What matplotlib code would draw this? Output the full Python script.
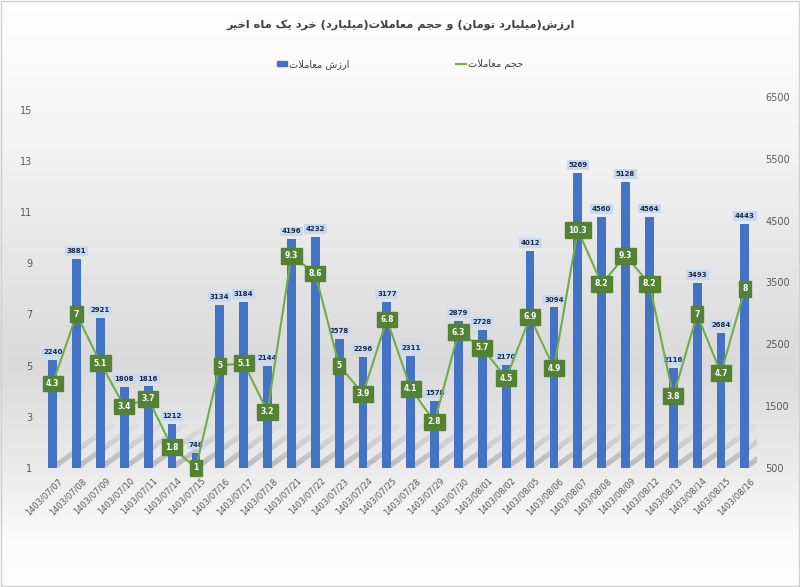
import matplotlib
matplotlib.use("Agg")
import matplotlib.pyplot as plt
import matplotlib.transforms as mtransforms
import numpy as np
from matplotlib.patches import Patch, Polygon
from matplotlib.lines import Line2D
from matplotlib.colors import LinearSegmentedColormap

dates = ['1403/07/07', '1403/07/08', '1403/07/09', '1403/07/10', '1403/07/11',
         '1403/07/14', '1403/07/15', '1403/07/16', '1403/07/17', '1403/07/18',
         '1403/07/21', '1403/07/22', '1403/07/23', '1403/07/24', '1403/07/25',
         '1403/07/28', '1403/07/29', '1403/07/30', '1403/08/01', '1403/08/02',
         '1403/08/05', '1403/08/06', '1403/08/07', '1403/08/08', '1403/08/09',
         '1403/08/12', '1403/08/13', '1403/08/14', '1403/08/15', '1403/08/16']
value = [2240, 3881, 2921, 1808, 1816, 1212, 748, 3134, 3184, 2144,
         4196, 4232, 2578, 2296, 3177, 2311, 1578, 2879, 2728, 2170,
         4012, 3094, 5269, 4560, 5128, 4564, 2116, 3493, 2684, 4443]
volume = [4.3, 7, 5.1, 3.4, 3.7, 1.8, 1, 5, 5.1, 3.2,
          9.3, 8.6, 5, 3.9, 6.8, 4.1, 2.8, 6.3, 5.7, 4.5,
          6.9, 4.9, 10.3, 8.2, 9.3, 8.2, 3.8, 7, 4.7, 8]

title = 'ارزش(میلیارد تومان) و حجم معاملات(میلیارد) خرد یک ماه اخیر'
value_label = 'ارزش معاملات'
volume_label = 'حجم معاملات'

# matplotlib has no arabic shaping, so pick presentation forms by hand
# (isolated, final, initial, medial)
FORMS = {
    'ا': ('\uFE8D', '\uFE8E', None, None),
    'ب': ('\uFE8F', '\uFE90', '\uFE91', '\uFE92'),
    'ت': ('\uFE95', '\uFE96', '\uFE97', '\uFE98'),
    'ج': ('\uFE9D', '\uFE9E', '\uFE9F', '\uFEA0'),
    'ح': ('\uFEA1', '\uFEA2', '\uFEA3', '\uFEA4'),
    'خ': ('\uFEA5', '\uFEA6', '\uFEA7', '\uFEA8'),
    'د': ('\uFEA9', '\uFEAA', None, None),
    'ر': ('\uFEAD', '\uFEAE', None, None),
    'ز': ('\uFEAF', '\uFEB0', None, None),
    'س': ('\uFEB1', '\uFEB2', '\uFEB3', '\uFEB4'),
    'ش': ('\uFEB5', '\uFEB6', '\uFEB7', '\uFEB8'),
    'ع': ('\uFEC9', '\uFECA', '\uFECB', '\uFECC'),
    'ل': ('\uFEDD', '\uFEDE', '\uFEDF', '\uFEE0'),
    'م': ('\uFEE1', '\uFEE2', '\uFEE3', '\uFEE4'),
    'ن': ('\uFEE5', '\uFEE6', '\uFEE7', '\uFEE8'),
    'ه': ('\uFEE9', '\uFEEA', '\uFEEB', '\uFEEC'),
    'و': ('\uFEED', '\uFEEE', None, None),
    'ک': ('\uFB8E', '\uFB8F', '\uFB90', '\uFB91'),
    'ی': ('\uFBFC', '\uFBFD', '\uFBFE', '\uFBFF'),
}
LAM_ALEF = ('\uFEFB', '\uFEFC')


def dual(c):
    return c in FORMS and FORMS[c][2] is not None


def rtl(text):
    out = []
    i = 0
    while i < len(text):
        c = text[i]
        prev = text[i - 1] if i > 0 else ''
        joins_prev = c in FORMS and dual(prev)
        if c == 'ل' and i + 1 < len(text) and text[i + 1] == 'ا':
            out.append(LAM_ALEF[1] if joins_prev else LAM_ALEF[0])
            i += 2
            continue
        if c in FORMS:
            nxt = text[i + 1] if i + 1 < len(text) else ''
            joins_next = dual(c) and nxt in FORMS
            iso, fin, ini, med = FORMS[c]
            if joins_prev and joins_next:
                out.append(med)
            elif joins_prev:
                out.append(fin)
            elif joins_next:
                out.append(ini)
            else:
                out.append(iso)
        else:
            out.append({'(': ')', ')': '('}.get(c, c))
        i += 1
    return ''.join(out[::-1])


plt.rcParams['font.family'] = ['DejaVu Sans']

fig = plt.figure(figsize=(8, 5.87), dpi=100)

# soft vertical gradient behind everything
bg = fig.add_axes([0, 0, 1, 1], zorder=-10)
grad = LinearSegmentedColormap.from_list('bg', [
    (0.0, '#ffffff'), (0.25, '#f3f3f3'), (0.62, '#dadada'),
    (0.8, '#ebebeb'), (0.92, '#fbfbfb'), (1.0, '#ffffff')])
bg.imshow(np.linspace(0, 1, 256).reshape(-1, 1), aspect='auto', cmap=grad,
          extent=[0, 1, 1, 0])
bg.set_xlim(0, 1)
bg.set_ylim(1, 0)
bg.axis('off')
bg.add_patch(plt.Rectangle((0.001, 0.001), 0.998, 0.997, fill=False,
                           edgecolor='#d0d0d0', lw=1))

ax = fig.add_axes([0.051, 0.203, 0.895, 0.632])
ax.patch.set_visible(False)
x = np.arange(len(dates))
w = 0.37

ax.set_ylim(500, 6500)
ax.set_xlim(-0.5, len(dates) - 0.5)

# faded diagonal shadows at the foot of each bar
for xi in x:
    for k in range(1, 7):
        ln = k / 6
        ax.add_patch(Polygon([(xi - w / 2, 500), (xi + w / 2, 500),
                              (xi + w / 2 + 2.5 * ln, 500 + 700 * ln),
                              (xi - w / 2 + 2.5 * ln, 500 + 700 * ln)],
                             closed=True, fc='#606060', ec='none',
                             alpha=0.06, zorder=1))

bars = ax.bar(x, value, width=w, bottom=0, color='#4472C4', zorder=2)
for xi, v in zip(x, value):
    ax.annotate(str(v), (xi, v), xytext=(0, 3.5), textcoords='offset points',
                ha='center', va='bottom', fontsize=5, fontweight='bold',
                color='#1f2a44',
                bbox=dict(boxstyle='square,pad=0.25', fc='#c6d9f0', ec='none'))

ax2 = ax.twinx()
ax2.plot(x, volume, color='#70AD47', lw=1.5, zorder=3)
ax2.set_ylim(1, 15.51)
for xi, v in zip(x, volume):
    ax2.text(xi, v, f'{v:g}', ha='center', va='center', fontsize=5.5,
             fontweight='bold', color='white',
             bbox=dict(boxstyle='square,pad=0.45', fc='#548235', ec='#548235'))

# bars read on the right axis, line on the left, as in the original
ax.yaxis.tick_right()
ax2.yaxis.tick_left()
ax.set_yticks(range(500, 6501, 1000))
ax2.set_yticks(range(1, 16, 2))
for a in (ax, ax2):
    for s in a.spines.values():
        s.set_visible(False)
    a.tick_params(length=0, colors='#595959', labelsize=7)
ax.tick_params(axis='y', pad=6)
ax2.tick_params(axis='y', pad=6)
ax.set_xticks(x)
ax.set_xticklabels(dates, rotation=45, ha='right', rotation_mode='anchor',
                   fontsize=6)
ax.tick_params(axis='x', pad=6)
shift = mtransforms.ScaledTranslation(5 / 100, 0, fig.dpi_scale_trans)
for lab in ax.get_xticklabels():
    lab.set_transform(lab.get_transform() + shift)

fig.text(0.501, 0.959, rtl(title), ha='center', va='center', fontsize=8.2,
         fontweight='bold', color='#404040')
handles = [Patch(color='#4472C4'), Line2D([0], [0], color='#70AD47', lw=1.5)]
fig.legend(handles, [rtl(value_label), rtl(volume_label)], loc='center',
           bbox_to_anchor=(0.5, 0.891), ncol=2, frameon=False, fontsize=7,
           columnspacing=11, handlelength=1.0, handleheight=0.5,
           handletextpad=0.2, labelcolor='#404040')

fig.savefig('out.png', dpi=100)
